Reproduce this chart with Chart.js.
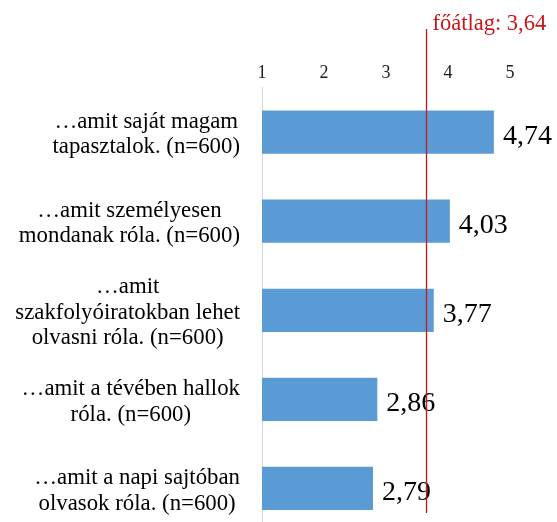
<!DOCTYPE html>
<html>
<head>
<meta charset="utf-8">
<script src="https://cdn.jsdelivr.net/npm/chart.js@4/dist/chart.umd.min.js"></script>
<style>
  html, body { margin: 0; padding: 0; background: #fff; overflow: hidden; }
  canvas { display: block; }
</style>
</head>
<body>
<canvas id="chart" width="557" height="535"></canvas>
<script>
const categories = [
    ['…amit saját magam', 'tapasztalok. (n=600)'],
    ['…amit személyesen', 'mondanak róla. (n=600)'],
    ['…amit', 'szakfolyóiratokban lehet', 'olvasni róla. (n=600)'],
    ['…amit a tévében hallok', 'róla. (n=600)'],
    ['…amit a napi sajtóban', 'olvasok róla. (n=600)']
];
const values = [4.74, 4.03, 3.77, 2.86, 2.79];
const tickLabels = ['1', '2', '3', '4', '5'];
const meanValue = 3.64;
const meanLabel = 'főátlag: 3,64';

const SERIF = '"Liberation Serif", "Times New Roman", serif';
const RED = '#c8161d';

const fmt = v => v.toFixed(2).replace('.', ',');

// value labels, category labels and the mean line
const annotate = {
    id: 'annotate',
    afterDatasetsDraw(chart) {
        const { ctx, scales: { x, y } } = chart;
        ctx.save();

        ctx.fillStyle = '#000';
        ctx.font = '28px ' + SERIF;
        ctx.textAlign = 'left';
        ctx.textBaseline = 'alphabetic';
        chart.getDatasetMeta(0).data.forEach((bar, i) => {
            ctx.fillText(fmt(values[i]), bar.x + 9, bar.y + 12);
        });

        ctx.font = '22.8px ' + SERIF;
        ctx.textAlign = 'center';
        const lh = 25.5;
        categories.forEach((lines, i) => {
            const cy = y.getPixelForValue(i);
            const w = Math.max(...lines.map(l => ctx.measureText(l).width));
            const cx = 240 - w / 2;
            lines.forEach((l, k) => {
                ctx.fillText(l, cx, cy + 8.5 + (k - (lines.length - 1) / 2) * lh);
            });
        });

        const mx = Math.round(x.getPixelForValue(meanValue)) + 0.5;
        ctx.strokeStyle = RED;
        ctx.lineWidth = 1.3;
        ctx.beginPath();
        ctx.moveTo(mx, 29);
        ctx.lineTo(mx, 513);
        ctx.stroke();

        ctx.fillStyle = RED;
        ctx.font = '22.5px ' + SERIF;
        ctx.textAlign = 'left';
        ctx.fillText(meanLabel, mx + 6, 30);

        ctx.restore();
    }
};

new Chart(document.getElementById('chart'), {
    type: 'bar',
    data: {
        labels: categories,
        datasets: [{
            data: values,
            backgroundColor: '#5b9bd5',
            borderWidth: 0,
            categoryPercentage: 1,
            barPercentage: 0.485
        }]
    },
    options: {
        indexAxis: 'y',
        responsive: false,
        animation: false,
        layout: { padding: { left: 262, right: 47, top: 58, bottom: 2 } },
        plugins: {
            legend: { display: false },
            tooltip: { enabled: false }
        },
        scales: {
            x: {
                position: 'top',
                min: 1,
                max: 5,
                grid: { display: false, drawTicks: false },
                border: { display: false },
                ticks: {
                    stepSize: 1,
                    padding: 4,
                    color: '#222',
                    font: { family: SERIF, size: 18 },
                    callback: (v, i) => tickLabels[i]
                }
            },
            y: {
                grid: { display: false, drawTicks: false },
                border: { display: true, color: '#d9d9d9', width: 1 },
                ticks: { display: false }
            }
        }
    },
    plugins: [annotate]
});
</script>
</body>
</html>
